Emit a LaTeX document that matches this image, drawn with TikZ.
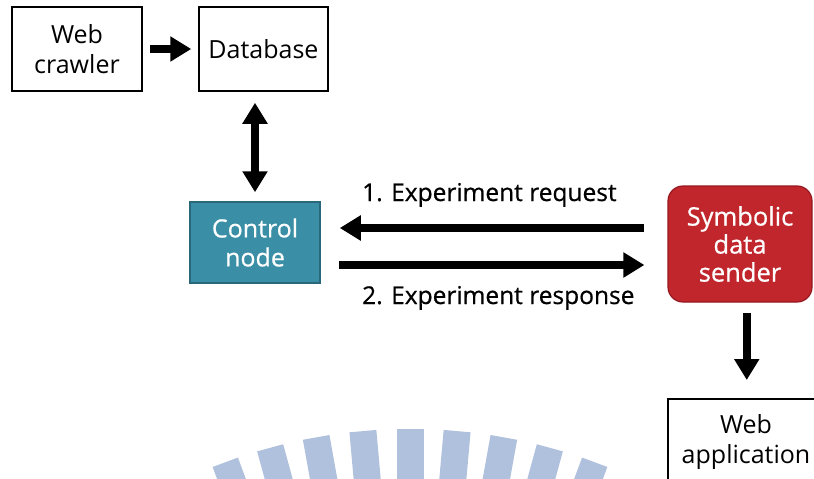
\documentclass[tikz,border=0pt]{standalone}
\usepackage{fontspec}
\setmainfont{Open Sans}
\newfontfamily\semifont[FakeBold=0.6]{Open Sans}
\usetikzlibrary{arrows.meta}
\definecolor{tealfill}{RGB}{58,142,165}
\definecolor{tealedge}{RGB}{40,104,122}
\definecolor{redfill}{RGB}{192,38,44}
\definecolor{rededge}{RGB}{150,24,30}
\definecolor{markblue}{RGB}{176,193,222}
\tikzset{
  plainbox/.style={draw=black, line width=1.5pt, fill=white, align=center,
    font=\fontsize{25}{30}\selectfont, inner sep=0pt},
  ctrlbox/.style={draw=tealedge, line width=1.5pt, fill=tealfill, text=white,
    align=center, font=\semifont\fontsize{25}{29}\selectfont, inner sep=0pt},
  sendbox/.style={draw=rededge, line width=1.2pt, fill=redfill, text=white,
    rounded corners=15pt, align=center, font=\semifont\fontsize{25.5}{28}\selectfont, inner sep=0pt},
  fatarrow/.style={line width=8pt, -{Triangle[length=21pt,width=24pt]}},
  fatboth/.style={line width=8pt, {Triangle[length=21pt,width=24pt]}-{Triangle[length=21pt,width=24pt]}},
  msg/.style={anchor=base west, font=\semifont\fontsize{24.5}{28}\selectfont, inner sep=0pt},
  markbar/.style={fill=markblue, draw=none}
}
\begin{document}
\begin{tikzpicture}[x=1pt, y=-1pt]
\useasboundingbox (0,0) rectangle (814,479);
\clip (0,0) rectangle (814,479);

% faint emblem bars along the lower edge
\foreach \a in {-4,...,4}{
  \begin{scope}[shift={(410,959)}, rotate=\a*5.1]
    \fill[markbar] (-13.5,-530) rectangle (13.5,-380);
  \end{scope}
}

% boxes
\node[plainbox, minimum width=130pt, minimum height=84pt] (crawler) at (77,49) {Web\\crawler};
\node[plainbox, minimum width=129pt, minimum height=84pt] (db) at (263.5,49) {Database};
\node[ctrlbox, minimum width=130pt, minimum height=81pt] (ctrl) at (255,242.5) {Control\\node};
\node[sendbox, minimum width=144pt, minimum height=116pt] (sender) at (740,244) {Symbolic\\data\\sender};
\node[plainbox, minimum width=158pt, minimum height=100pt, anchor=north west] (app) at (667,398) {};
\node[align=center, font=\fontsize{25}{31}\selectfont, inner sep=0pt] (apptext) at (746,442) {Web\\application};

% connectors
\draw[fatarrow, shorten <=7pt, shorten >=7pt] (crawler.east) -- (db.west);
\draw[fatboth, shorten <=11pt, shorten >=9pt] (ctrl.north |- db.south) -- (ctrl.north);
\draw[fatarrow, shorten <=23pt, shorten >=19pt] ([yshift=14.5pt]sender.west |- ctrl.east) -- ([yshift=14.5pt]ctrl.east);
\draw[fatarrow, shorten <=18pt, shorten >=23pt] ([yshift=-22.5pt]ctrl.east) -- ([yshift=-22.5pt]sender.west |- ctrl.east);
\draw[fatarrow, shorten <=10pt, shorten >=18pt] (app.north |- sender.south) -- (app.north);

% message labels
\node[msg] (req) at (362,201) {1. Experiment request};
\node[msg] (resp) at (362,304) {2. Experiment response};
\end{tikzpicture}
\end{document}
